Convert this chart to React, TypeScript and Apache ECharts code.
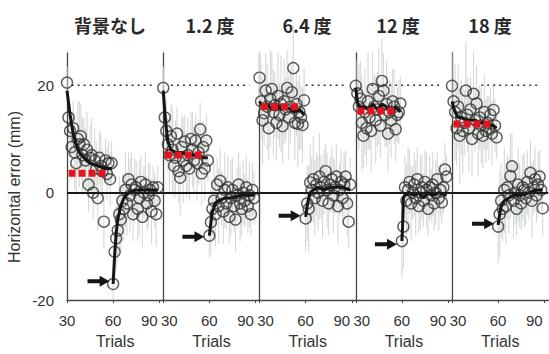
import React, { useEffect, useRef } from "react";
import * as echarts from "echarts";

// ---- data ----
const panelTitles = ["背景なし", "1.2 度", "6.4 度", "12 度", "18 度"];
const xTickValues = [30, 60, 90];
const yTickValues = [-20, 0, 20];

const trialsA = [30, 31, 32, 33, 34, 35, 36, 37, 38, 39, 40, 41, 42, 43, 44, 45, 46, 47, 48, 49, 50, 51, 52, 53, 54, 55, 56, 57, 58, 59];
const trialsB = [60, 61, 62, 63, 64, 65, 66, 67, 68, 69, 70, 71, 72, 73, 74, 75, 76, 77, 78, 79, 80, 81, 82, 83, 84, 85, 86, 87, 88, 89];

// panel 1: 背景なし
const p1A = [20.5, 14, 11.5, 8.5, 12, 7.5, 5.5, 10, 9, 10.5, 7, 9, 6, 8, 1.5, 6.5, 7, 0, 6, 4.5, -1, 6.5, 5, 4, -5.4, 6, 3.5, 5.5, 2.5, 5.5];
const p1B = [-17, -11, -8.5, -7, -4, -5, -1.5, -3, 0.5, -2, 2.5, -0.5, 1.5, -4, 0.5, 1, -3, -1, 2, -4.5, 0, 1.5, -2, -0.5, 0.5, -3.5, 1, -1.5, -4, 1];
const p1ErrA = [3, 4, 5, 6, 5, 7, 6, 7, 8, 6, 7, 5, 6, 7, 5, 6, 7, 5, 6, 5, 6, 5, 6, 4, 5, 4, 5, 4, 5, 4];
const p1ErrB = [3, 5, 6, 6, 7, 6, 5, 6, 7, 6, 5, 7, 6, 5, 6, 5, 6, 7, 5, 6, 5, 6, 5, 6, 5, 6, 4, 5, 6, 4];
const fit1A = [[30, 19], [32, 14.5], [34, 11], [36, 9], [38, 7.5], [41, 6.5], [45, 5.5], [50, 5], [55, 4.5], [59, 4.5]];
const fit1B = [[60, -17], [61, -11.5], [62, -7.5], [63, -5], [65, -2.5], [67, -1], [70, 0], [75, 0.5], [80, 0.5], [89, 0.5]];

// panel 2: 1.2 度
const p2A = [19.5, 14, 11.5, 9, 7, 10.5, 8, 5, 6.5, 11, 4, 2.8, 8.5, 6, 9.5, 5, 7, 4.5, 10, 8, 6, 9.7, 5.5, 7.5, 11.8, 3.6, 8.5, 4.5, 9.7, 6];
const p2B = [-8, -5.5, -3, -1.5, -4, 1.5, -2.5, 2.2, -1, -3.5, 0.5, -2, 1, -4.5, -1, 0.5, -2.5, -5, -0.5, 1.5, -2, -3, 0, -1.5, 1, -2.5, -0.5, -4, 0.5, -1];
const p2ErrA = [4, 5, 6, 5, 7, 6, 8, 6, 7, 5, 6, 7, 6, 8, 5, 6, 7, 6, 5, 7, 6, 5, 7, 6, 5, 6, 5, 6, 5, 4];
const p2ErrB = [4, 6, 5, 7, 6, 5, 7, 6, 5, 6, 7, 5, 6, 5, 7, 6, 5, 6, 5, 6, 7, 5, 6, 5, 6, 5, 6, 4, 5, 5];
const fit2A = [[30, 19], [31, 15], [32, 12], [33, 9.5], [35, 8], [38, 7.5], [42, 7.5], [47, 7], [52, 7], [56, 6.5], [59, 6.5]];
const fit2B = [[60, -8], [61, -5.5], [62, -3.5], [64, -2], [66, -1.5], [70, -1], [75, -1], [80, -0.5], [85, -0.5], [89, -0.5]];

// panel 3: 6.4 度
const p3A = [21.4, 17, 13.5, 14.8, 19, 16, 12, 17.5, 19.3, 15, 16.3, 13, 18, 14.5, 16.5, 12.4, 17, 15.5, 19.5, 14, 16, 18.7, 23.2, 13, 16.5, 12.8, 15, 14, 12.6, 17.2];
const p3B = [-4.8, -2, -3, 1.9, 0.5, 2.5, -1, 1.5, 0, 3, 1, -1.5, 2, 4, 0.5, -2, 1.5, 2.5, -0.5, 1, 3, -2.5, 0.5, 2, -1, 1.5, 3, -2, -5.4, 1.5];
const p3ErrA = [5, 7, 8, 6, 7, 8, 6, 9, 7, 8, 6, 7, 8, 6, 9, 7, 8, 6, 7, 8, 7, 6, 8, 7, 6, 8, 7, 6, 7, 6];
const p3ErrB = [6, 7, 8, 7, 6, 8, 7, 6, 7, 8, 6, 7, 6, 5, 7, 6, 5, 6, 7, 5, 6, 7, 5, 6, 5, 6, 5, 6, 5, 5];
const fit3A = [[30, 17], [32, 16], [35, 16.5], [38, 15.5], [41, 16.5], [44, 15.5], [47, 16], [50, 15.5], [53, 15], [56, 15.5], [59, 14.5]];
const fit3B = [[60, -4.5], [61, -2.5], [62, -1], [63, 0], [65, 0.5], [68, 1], [72, 0.5], [76, 1], [80, 1], [84, 1], [89, 0.5]];

// panel 4: 12 度
const p4A = [19.9, 18.5, 16, 17.5, 13, 10.6, 15, 12, 17, 14, 11.5, 19.3, 16, 13.5, 15.5, 18, 12.5, 20.8, 19, 14.5, 16.5, 11, 15, 13.5, 17, 16, 11.8, 14.5, 15, 16.6];
const p4B = [-9, -6.3, 1, -1.5, 0.5, 2, -2, 0, 1.5, -1, 2.5, -2.5, 0, 1, -1.5, 2, 0.5, -3, 1, -0.5, 1.5, -2, 0, 2.5, -1, 0.5, -1.8, 1, 4.3, 3];
const p4ErrA = [5, 6, 8, 7, 9, 6, 8, 7, 9, 6, 8, 7, 6, 8, 7, 9, 6, 8, 7, 6, 8, 7, 6, 7, 6, 7, 6, 5, 6, 5];
const p4ErrB = [7, 8, 6, 7, 8, 6, 7, 5, 6, 7, 6, 5, 7, 6, 5, 6, 7, 5, 6, 5, 6, 5, 6, 5, 6, 5, 4, 5, 5, 4];
const fit4A = [[30, 19.5], [31, 17], [32, 16], [35, 16], [38, 15.5], [41, 16.5], [44, 15.5], [47, 16.5], [50, 16], [53, 15], [56, 16], [59, 15]];
const fit4B = [[60, -9], [60.5, -6], [61, -1], [62, -0.5], [65, 0], [68, -0.5], [71, 0], [74, -1], [77, 0], [80, -0.5], [84, 0], [89, -0.5]];

// panel 5: 18 度
const p5A = [19.9, 17, 15, 12, 16, 10.6, 14, 11.5, 13, 19, 14.5, 12, 15.5, 10, 18.4, 13.5, 16.6, 11, 14, 12.5, 10.6, 15, 11.5, 13, 12, 14.5, 11, 15.4, 12.5, 10.3];
const p5B = [-6.3, -4, -1.5, -3, 0.5, -2.5, 1, -0.5, 3.1, 4.9, -1.5, 0, -3, 1.5, -0.5, -2, 1, 0.5, -1, 2, 0, 3.7, -1.5, 1, 2.5, -0.5, 1.5, 3, 0.5, -2.9];
const p5ErrA = [6, 8, 9, 7, 8, 9, 7, 8, 6, 9, 7, 8, 6, 7, 8, 6, 7, 8, 6, 7, 6, 7, 6, 5, 6, 5, 6, 5, 5, 4];
const p5ErrB = [7, 8, 7, 6, 8, 7, 6, 7, 8, 6, 7, 6, 5, 7, 6, 5, 6, 7, 5, 6, 5, 6, 7, 5, 6, 5, 6, 5, 4, 5];
const fit5A = [[30, 17], [32, 15], [34, 14], [36, 14], [39, 13.5], [42, 13.5], [45, 13.5], [48, 13], [51, 13], [54, 12.5], [57, 12.5], [59, 12]];
const fit5B = [[60, -6], [61, -4], [62, -2.5], [64, -1.5], [67, -1], [70, -0.5], [75, -0.5], [80, 0], [85, 0.5], [89, 0.5]];

// red dashed plateau level, trial range
const plateauLevels = [3.6, 7.0, 16.0, 15.2, 12.8];
const plateauRange = [31, 56];
// dotted reference line at 20 (start trial per panel, end trial)
const refValue = 20;
const refStarts = [33, 35, 60, 40, 49];
const refEnd = 86;
// arrows pointing at first trial after switch
const arrowPoints = [[50.5, -16.5], [49.6, -8.2], [49.6, -4.3], [49.6, -9.6], [50.2, -5.8]];

const phaseA = [p1A, p2A, p3A, p4A, p5A];
const phaseB = [p1B, p2B, p3B, p4B, p5B];
const errA = [p1ErrA, p2ErrA, p3ErrA, p4ErrA, p5ErrA];
const errB = [p1ErrB, p2ErrB, p3ErrB, p4ErrB, p5ErrB];
const fitA = [fit1A, fit2A, fit3A, fit4A, fit5A];
const fitB = [fit1B, fit2B, fit3B, fit4B, fit5B];

const FONT = "'Liberation Sans', Arial, sans-serif";
const CJK = "'Noto Sans CJK JP', 'Noto Sans', sans-serif";
const ARROW = "path://M0,3.2 L11,3.2 L11,0 L20,5 L11,10 L11,6.8 L0,6.8 Z";

export default function App() {
  const ref = useRef<HTMLDivElement>(null);

  useEffect(() => {
    if (!ref.current) return;
    const chart = echarts.init(ref.current, null, { renderer: "svg" });

    const lefts = [67, 163.25, 259.5, 355.75, 452];
    const grids: any[] = [];
    const xAxes: any[] = [];
    const yAxes: any[] = [];
    const series: any[] = [];

    panelTitles.forEach((_, i) => {
      grids.push({ left: lefts[i], top: 53, width: 96.25, height: 255, containLabel: false });
      xAxes.push({
        type: "value",
        gridIndex: i,
        min: 30,
        max: 92.6,
        axisLine: { show: true, onZero: false, lineStyle: { color: "#444", width: 1.3 } },
        axisTick: { show: true, customValues: xTickValues, length: 3, lineStyle: { color: "#444" } },
        axisLabel: {
          customValues: xTickValues,
          color: "#333",
          fontSize: 15,
          fontFamily: FONT,
          margin: 13,
          formatter: (v: number) => {
            if (v === 90) return "{e|90}";
            if (v === 30 && i > 0) return "{s|30}";
            return String(v);
          },
          rich: {
            e: { padding: [0, 20, 0, 0], fontSize: 15, fontFamily: FONT, color: "#333" },
            s: { padding: [0, 0, 0, 12], fontSize: 15, fontFamily: FONT, color: "#333" },
          },
        },
        splitLine: { show: false },
        name: "Trials",
        nameLocation: "middle",
        nameGap: 29,
        nameTextStyle: { fontSize: 16, color: "#333", fontFamily: FONT },
      });
      yAxes.push({
        type: "value",
        gridIndex: i,
        min: -20,
        max: 26,
        axisLine: { show: true, onZero: false, lineStyle: { color: "#444", width: 1.3 } },
        axisTick: { show: false },
        axisLabel: {
          show: i === 0,
          customValues: yTickValues,
          color: "#333",
          fontSize: 15,
          fontFamily: FONT,
          margin: 13,
        },
        splitLine: { show: false },
      });

      const errData: number[][] = [];
      trialsA.forEach((t, k) => errData.push([t, phaseA[i][k] - errA[i][k], phaseA[i][k] + errA[i][k]]));
      trialsB.forEach((t, k) => errData.push([t, phaseB[i][k] - errB[i][k], phaseB[i][k] + errB[i][k]]));

      series.push({
        type: "custom",
        xAxisIndex: i,
        yAxisIndex: i,
        z: 1,
        silent: true,
        data: errData,
        renderItem: (_p: any, api: any) => {
          const a = api.coord([api.value(0), api.value(1)]);
          const b = api.coord([api.value(0), api.value(2)]);
          return {
            type: "line",
            shape: { x1: a[0], y1: a[1], x2: b[0], y2: b[1] },
            style: { stroke: "#d3dad3", lineWidth: 1.1 },
          };
        },
      });

      // zero line + dotted reference
      series.push({
        type: "line",
        xAxisIndex: i,
        yAxisIndex: i,
        z: 2,
        silent: true,
        symbol: "none",
        data: [[refStarts[i], refValue], [refEnd, refValue]],
        lineStyle: { color: "#333", width: 1.6, type: [2, 4] },
        markLine: {
          silent: true,
          symbol: "none",
          label: { show: false },
          lineStyle: { color: "#1a1a1a", width: 2, type: "solid" },
          data: [{ yAxis: 0 }],
        },
      });

      const pts: number[][] = [];
      trialsA.forEach((t, k) => pts.push([t, phaseA[i][k]]));
      trialsB.forEach((t, k) => pts.push([t, phaseB[i][k]]));
      series.push({
        type: "scatter",
        xAxisIndex: i,
        yAxisIndex: i,
        z: 3,
        symbol: "circle",
        symbolSize: 11,
        itemStyle: { color: "rgba(0,0,0,0)", borderColor: "#353535", borderWidth: 1.4 },
        data: pts,
      });

      [fitA[i], fitB[i]].forEach((fit) => {
        series.push({
          type: "line",
          xAxisIndex: i,
          yAxisIndex: i,
          z: 4,
          symbol: "none",
          data: fit,
          lineStyle: { color: "#151515", width: 3 },
        });
      });

      series.push({
        type: "line",
        xAxisIndex: i,
        yAxisIndex: i,
        z: 5,
        symbol: "none",
        data: [[plateauRange[0], plateauLevels[i]], [plateauRange[1], plateauLevels[i]]],
        lineStyle: { color: "#e3141f", width: 7, type: [7, 3], cap: "butt" },
      });

      series.push({
        type: "scatter",
        xAxisIndex: i,
        yAxisIndex: i,
        z: 6,
        symbol: ARROW,
        symbolSize: [22, 11],
        itemStyle: { color: "#151515", opacity: 1 },
        data: [arrowPoints[i]],
      });
    });

    const titleX = [110, 210, 307, 398, 490];
    const graphic: any[] = panelTitles.map((t, i) => ({
      type: "text",
      x: titleX[i],
      y: 25,
      style: {
        text: t,
        align: "center",
        verticalAlign: "middle",
        fontSize: 18,
        fontWeight: "bold",
        fontFamily: CJK,
        fill: "#2a2a2a",
      },
    }));
    graphic.push({
      type: "text",
      x: 14,
      y: 187,
      rotation: Math.PI / 2,
      style: {
        text: "Horizontal error (mm)",
        align: "center",
        verticalAlign: "middle",
        fontSize: 16,
        fontFamily: FONT,
        fill: "#333",
      },
    });

    chart.setOption({
      animation: false,
      backgroundColor: "#fff",
      grid: grids,
      xAxis: xAxes,
      yAxis: yAxes,
      series,
      graphic,
    });

    return () => chart.dispose();
  }, []);

  return <div ref={ref} style={{ position: "fixed", left: 0, top: 0, width: 549, height: 354 }} />;
}
